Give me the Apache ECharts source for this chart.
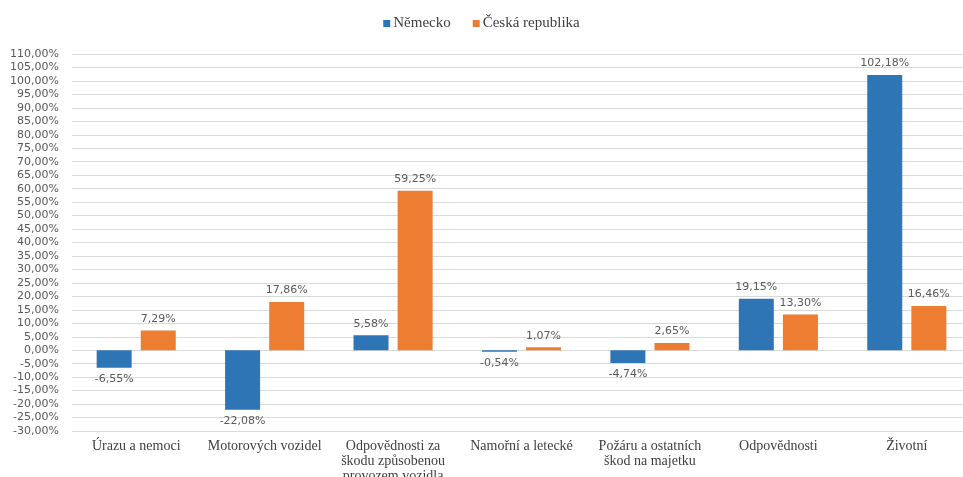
<!DOCTYPE html>
<html>
<head>
<meta charset="utf-8">
<script src="https://cdn.jsdelivr.net/npm/echarts@6/dist/echarts.min.js"></script>
<style>
  html, body { margin: 0; padding: 0; background: #fff; }
  #chart { width: 963px; height: 477px; }
</style>
</head>
<body>
<div id="chart"></div>
<script>
// Meziroční změna předepsaného pojistného podle odvětví
const categories = [
  'Úrazu a nemoci',
  'Motorových vozidel',
  'Odpovědnosti za\nškodu způsobenou\nprovozem vozidla',
  'Namořní a letecké',
  'Požáru a ostatních\nškod na majetku',
  'Odpovědnosti',
  'Životní'
];
const nemecko = [-6.55, -22.08, 5.58, -0.54, -4.74, 19.15, 102.18];
const ceskaRepublika = [7.29, 17.86, 59.25, 1.07, 2.65, 13.30, 16.46];

const pct = v => v.toFixed(2).replace('.', ',') + '%';

const labelStyle = {
  show: true,
  color: '#595959',
  fontFamily: 'DejaVu Sans',
  fontSize: 11,
  distance: 6,
  formatter: p => pct(p.value)
};

function toData(arr) {
  return arr.map(v => ({
    value: v,
    label: { position: v < 0 ? 'bottom' : 'top' }
  }));
}

const chart = echarts.init(document.getElementById('chart'));
chart.setOption({
  animation: false,
  legend: {
    top: 11,
    left: 'center',
    itemWidth: 7,
    itemHeight: 7,
    itemGap: 22,
    icon: 'rect',
    textStyle: { fontFamily: 'Liberation Serif', fontSize: 15, color: '#404040', padding: [0, 0, 0, -2] },
    data: ['Německo', 'Česká republika']
  },
  grid: { left: 72, right: -8, top: 54, bottom: 46, containLabel: false, outerBoundsMode: 'none' },
  xAxis: {
    type: 'category',
    data: categories,
    axisLine: { show: false, onZero: false },
    axisTick: { show: false },
    axisLabel: {
      interval: 0,
      margin: 8,
      color: '#404040',
      fontFamily: 'Liberation Serif',
      fontSize: 14,
      lineHeight: 15
    }
  },
  yAxis: {
    type: 'value',
    min: -30,
    max: 110,
    interval: 5,
    axisLine: { show: false },
    axisTick: { show: false },
    splitLine: { lineStyle: { color: '#d9d9d9', width: 1 } },
    axisLabel: {
      color: '#595959',
      fontFamily: 'DejaVu Sans',
      fontSize: 11,
      margin: 13,
      formatter: v => pct(v)
    }
  },
  series: [
    {
      name: 'Německo',
      type: 'bar',
      data: toData(nemecko),
      barWidth: 35,
      barGap: '26%',
      itemStyle: { color: '#2E75B6' },
      label: labelStyle
    },
    {
      name: 'Česká republika',
      type: 'bar',
      data: toData(ceskaRepublika),
      barWidth: 35,
      itemStyle: { color: '#ED7D31' },
      label: labelStyle
    }
  ]
});
</script>
</body>
</html>
